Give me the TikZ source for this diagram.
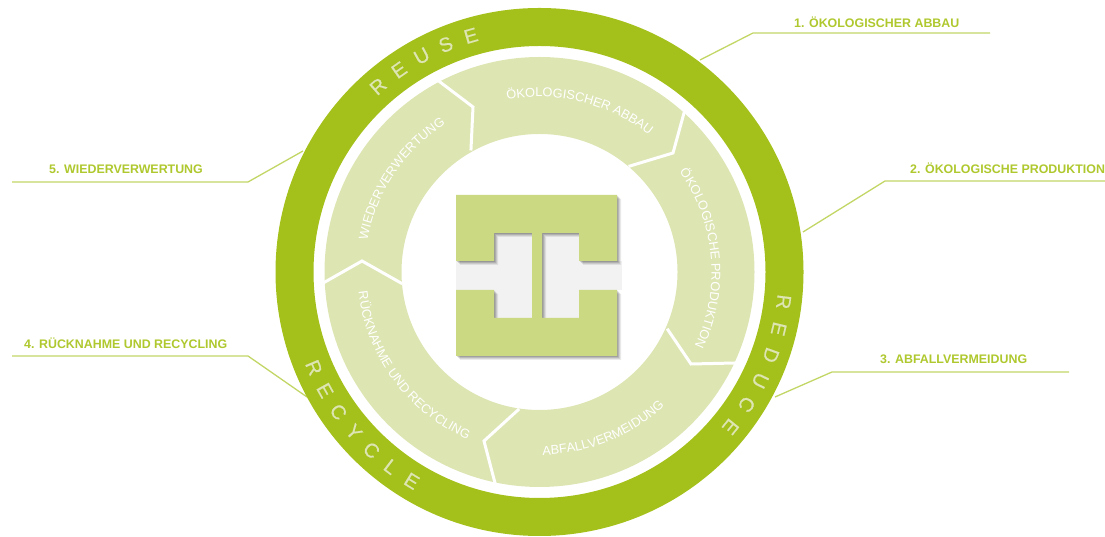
\documentclass[tikz,border=0pt]{standalone}
\usepackage{fontspec}
\setmainfont{Liberation Sans}
\newfontfamily\ringfont[FakeBold=0.5]{Liberation Sans}
\usepackage{xcolor}
\usetikzlibrary{calc,decorations.text}
\definecolor{ringgreen}{HTML}{A4C01A}
\definecolor{labelgreen}{HTML}{AEC82E}
\definecolor{leadergreen}{HTML}{C2D665}
\definecolor{seggreen}{HTML}{DDE5B3}
\definecolor{logogreen}{HTML}{CBD982}
\definecolor{logogrey}{HTML}{F2F2F2}
\newcommand{\segfont}{\fontsize{12.8}{14}\selectfont\color{white}}

\begin{document}
\begin{tikzpicture}[x=1pt, y=1pt,
    seglabel/.style={decorate, decoration={text along path, text={|\segfont|#1}, text align=center}},
    ringletter/.style={text=seggreen, font=\ringfont\fontsize{20}{22}\selectfont, inner sep=0pt},
    sidelabel/.style={text=labelgreen, font=\bfseries\fontsize{12.4}{14}\selectfont, anchor=west, inner sep=0pt},
    leader/.style={draw=leadergreen, line width=1.3pt},
    divider/.style={draw=white, line width=3pt, line cap=rect, line join=miter}]
    \useasboundingbox (0,0) rectangle (1105,537);
    \clip (0,0) rectangle (1105,537);
    \coordinate (hub) at (539.5,265);

    % Leader lines from ring to side labels
    \coordinate (abbauA) at (700,477);
    \coordinate (abbauB) at (753,504);
    \coordinate (abbauC) at (990,504);
    \coordinate (prodA) at (803,305);
    \coordinate (prodB) at (885,356);
    \coordinate (prodC) at (1105,356);
    \coordinate (vermA) at (775,140);
    \coordinate (vermB) at (832,165);
    \coordinate (vermC) at (1069,165);
    \coordinate (recycA) at (307,140);
    \coordinate (recycB) at (248,181);
    \coordinate (recycC) at (12,181);
    \coordinate (wiederA) at (303,386);
    \coordinate (wiederB) at (248,355);
    \coordinate (wiederC) at (12,355);
    \draw[leader] (abbauA) -- (abbauB) -- (abbauC);
    \draw[leader] (prodA) -- (prodB) -- (prodC);
    \draw[leader] (vermA) -- (vermB) -- (vermC);
    \draw[leader] (recycA) -- (recycB) -- (recycC);
    \draw[leader] (wiederA) -- (wiederB) -- (wiederC);

    \node[sidelabel] (abbaulabel) at (794,515) {1. ÖKOLOGISCHER ABBAU};
    \node[sidelabel] (prodlabel) at (910,369) {2. ÖKOLOGISCHE PRODUKTION};
    \node[sidelabel] (vermlabel) at (880,178) {3. ABFALLVERMEIDUNG};
    \node[sidelabel] (recyclabel) at (24,194) {4. RÜCKNAHME UND RECYCLING};
    \node[sidelabel] (wiederlabel) at (49,368) {5. WIEDERVERWERTUNG};

    % Outer ring and segment band
    \fill[ringgreen, even odd rule] (hub) circle[radius=264] (hub) circle[radius=226];
    \fill[seggreen, even odd rule] (hub) circle[radius=215] (hub) circle[radius=138];

    % White dividers between segments
    \coordinate (divA1) at (440,455);
    \coordinate (divA2) at (473,430);
    \coordinate (divA3) at (471,388);
    \coordinate (divB1) at (684,424);
    \coordinate (divB2) at (673,384);
    \coordinate (divB3) at (630,371);
    \coordinate (divC1) at (668,207);
    \coordinate (divC2) at (691,173);
    \coordinate (divC3) at (735,174);
    \coordinate (divD1) at (518,127);
    \coordinate (divD2) at (484,96);
    \coordinate (divD3) at (495,54);
    \coordinate (divE1) at (401,254);
    \coordinate (divE2) at (362,276);
    \coordinate (divE3) at (325,255);
    \draw[divider] (divA1) -- (divA2) -- (divA3);
    \draw[divider] (divB1) -- (divB2) -- (divB3);
    \draw[divider] (divC1) -- (divC2) -- (divC3);
    \draw[divider] (divD1) -- (divD2) -- (divD3);
    \draw[divider] (divE1) -- (divE2) -- (divE3);

    % Segment texts
    \path[seglabel={ÖKOLOGISCHER ABBAU}] ($(hub)+(116:175)$) arc[start angle=116, end angle=36, radius=175];
    \path[seglabel={ÖKOLOGISCHE PRODUKTION}] ($(hub)+(55:172)$) arc[start angle=55, end angle=-45, radius=172];
    \path[seglabel={ABFALLVERMEIDUNG}] ($(hub)+(252:183)$) arc[start angle=252, end angle=332, radius=183];
    \path[seglabel={RÜCKNAHME UND RECYCLING}] ($(hub)+(166:182)$) arc[start angle=166, end angle=267, radius=182];
    \path[seglabel={WIEDERVERWERTUNG}] ($(hub)+(186:175)$) arc[start angle=186, end angle=106, radius=175];

    % Ring letters
    \foreach \ch [count=\i] in {R,E,U,S,E}
        \node[ringletter, rotate={131-(\i-1)*6.2-90}] (reuse\i) at ($(hub)+({131-(\i-1)*6.2}:246)$) {\ch};
    \foreach \ch [count=\i] in {R,E,D,U,C,E}
        \node[ringletter, rotate={-7-(\i-1)*6.4-90}] (reduce\i) at ($(hub)+({-7-(\i-1)*6.4}:246)$) {\ch};
    \foreach \ch [count=\i] in {R,E,C,Y,C,L,E}
        \node[ringletter, rotate={203+(\i-1)*5.93+90}] (recycle\i) at ($(hub)+({203+(\i-1)*5.93}:245)$) {\ch};

    % Logo in the middle
    \fill[logogrey] (456,247) rectangle (622,276);
    \fill[logogrey] (494,219) rectangle (579,304);
    \foreach \off/\shade in {4/8,3/10,2/12,1/14}
        \fill[black, opacity=0.01*\shade] ([shift={(\off,-\off)}]456,342) -- ++(161,0) -- ++(0,-66) -- ++(-38,0) -- ++(0,28) -- ++(-37,0) -- ++(0,-85) -- ++(37,0) -- ++(0,28) -- ++(38,0) -- ++(0,-66) -- ++(-161,0) -- ++(0,66) -- ++(38,0) -- ++(0,-28) -- ++(38,0) -- ++(0,85) -- ++(-38,0) -- ++(0,-28) -- ++(-38,0) -- cycle;
    \fill[logogreen] (456,342) -- ++(161,0) -- ++(0,-66) -- ++(-38,0) -- ++(0,28) -- ++(-37,0) -- ++(0,-85) -- ++(37,0) -- ++(0,28) -- ++(38,0) -- ++(0,-66) -- ++(-161,0) -- ++(0,66) -- ++(38,0) -- ++(0,-28) -- ++(38,0) -- ++(0,85) -- ++(-38,0) -- ++(0,-28) -- ++(-38,0) -- cycle;
\end{tikzpicture}
\end{document}
